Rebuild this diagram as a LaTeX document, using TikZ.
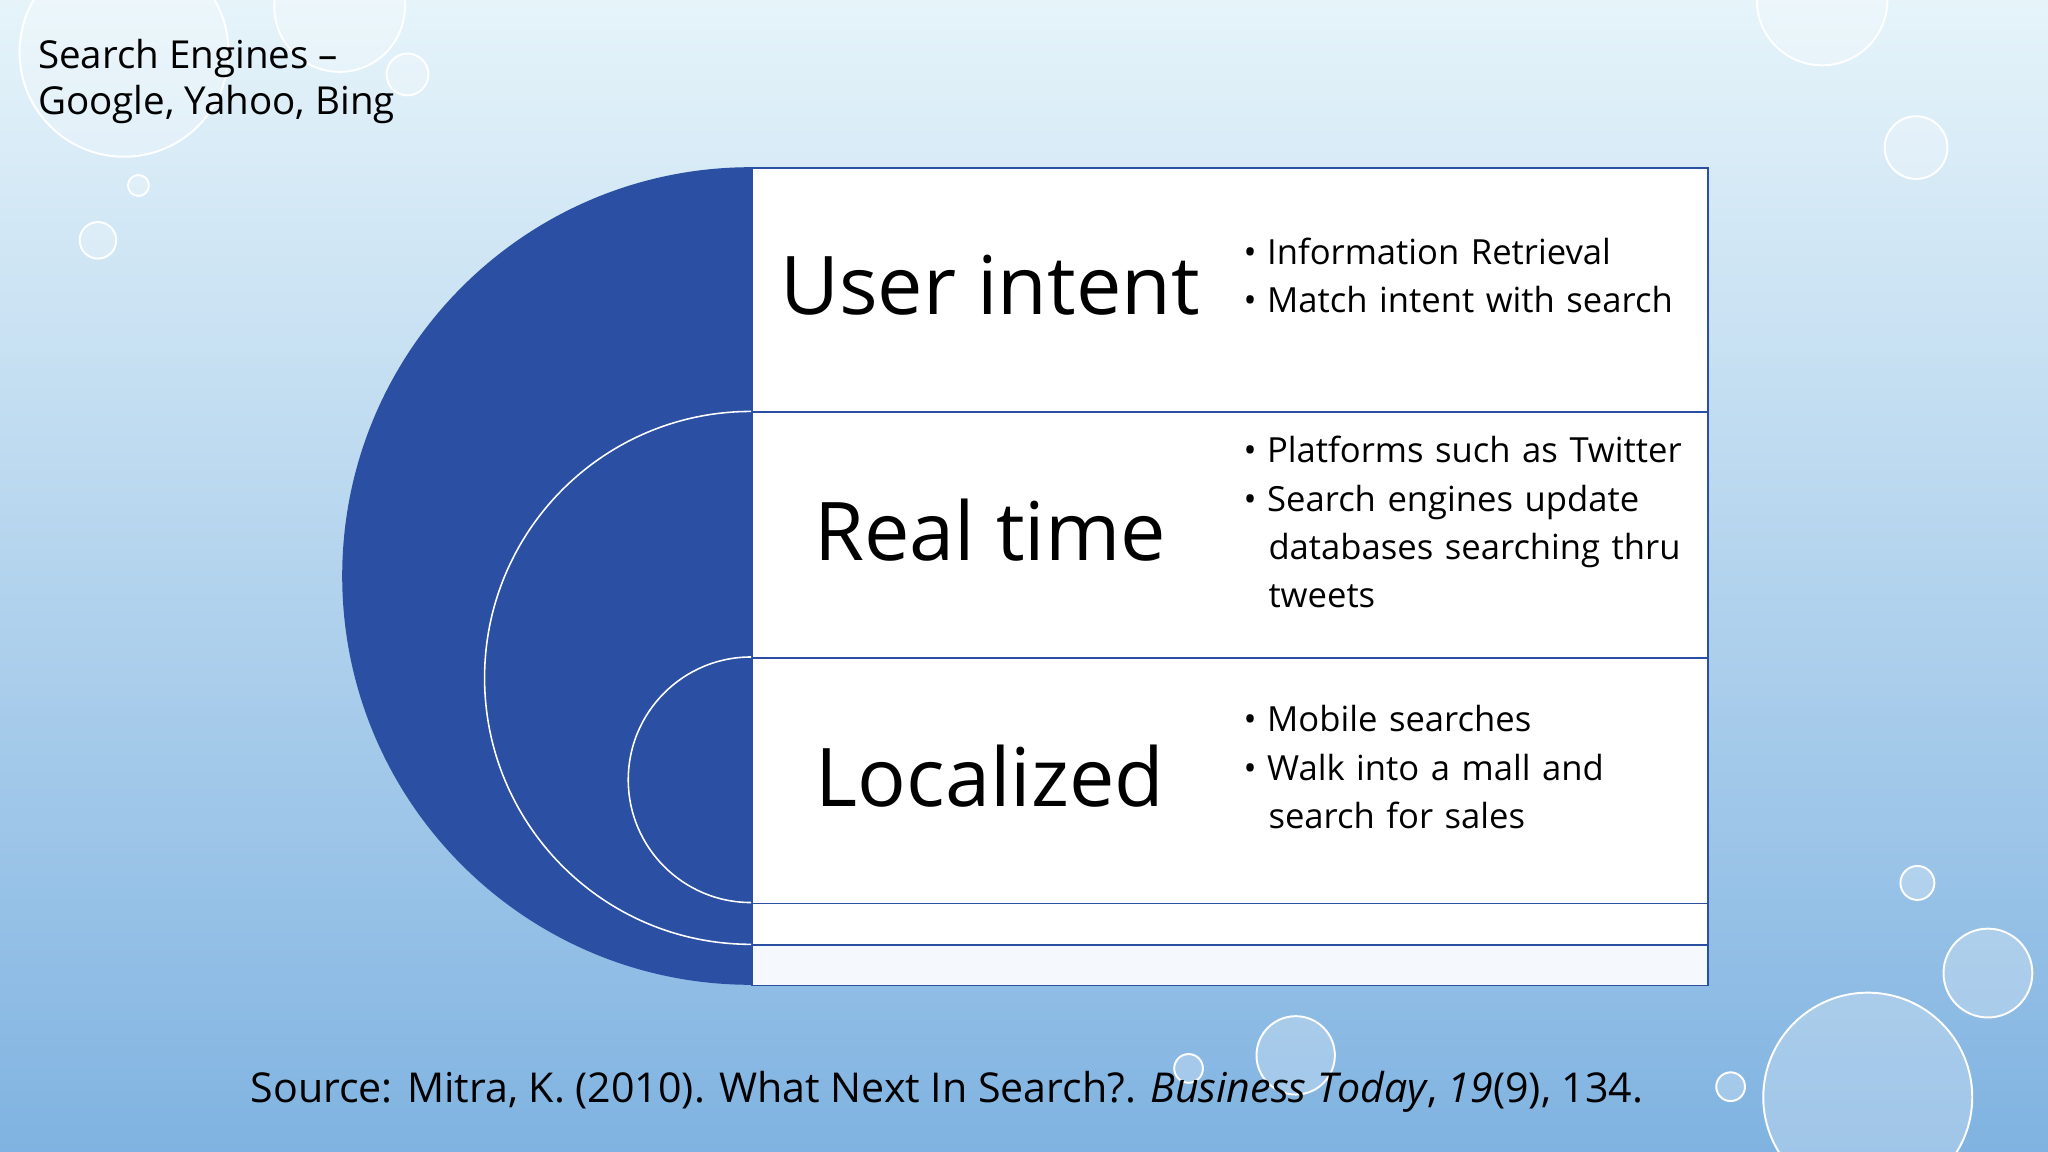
\documentclass[tikz,border=0pt]{standalone}
\usepackage{fontspec}
\setmainfont{Open Sans}
\definecolor{dblue}{HTML}{2A4FA3}
\definecolor{bgtop}{HTML}{E6F4FA}
\definecolor{bgbot}{HTML}{80B3E1}
\begin{document}
\begin{tikzpicture}[x=1pt,y=-1pt,
  rowbox/.style={draw=dblue,line width=1.2pt,fill=white},
  big/.style={font=\fontsize{62}{66}\selectfont,anchor=center},
  bul/.style={font=\fontsize{26.5}{37}\selectfont,anchor=north west,align=left,text width=360pt,inner sep=0pt},
  bubble/.style={draw=white,line width=1.5pt,fill=white,fill opacity=0.25}]
\useasboundingbox (0,0) rectangle (1568,882);
\shade[top color=bgtop,bottom color=bgbot] (0,0) rectangle (1568,882);
% bubbles
\draw[bubble] (95,40) circle (80);
\draw[bubble] (260,5) circle (50);
\draw[bubble] (312,57) circle (16);
\draw[bubble] (106,142) circle (8);
\draw[bubble] (75,184) circle (14);
\draw[bubble] (1395,0) circle (50);
\draw[bubble] (1467,113) circle (24);
\draw[bubble] (1468,676) circle (13);
\draw[bubble] (1522,745) circle (34);
\draw[bubble] (1430,840) circle (80);
\draw[bubble] (992,808) circle (30);
\draw[bubble] (910,818) circle (11);
\draw[bubble] (1325,832) circle (11);
% rows
\node[rowbox,minimum width=732pt,minimum height=187pt,anchor=north west,inner sep=0pt] (r1) at (575,128) {};
\node[rowbox,minimum width=732pt,minimum height=188pt,anchor=north west,inner sep=0pt] (r2) at (575,315) {};
\node[rowbox,minimum width=732pt,minimum height=188pt,anchor=north west,inner sep=0pt] (r3) at (575,503) {};
\node[rowbox,minimum width=732pt,minimum height=32pt,anchor=north west,inner sep=0pt] (r4) at (575,691) {};
\node[rowbox,fill=white!92!bgbot,minimum width=732pt,minimum height=31pt,anchor=north west,inner sep=0pt] (r5) at (575,723) {};
% half discs
\fill[dblue] (575,128) arc[start angle=-90,end angle=-270,radius=313] -- cycle;
\draw[white,line width=1.2pt,fill=dblue] (575,315) arc[start angle=-90,end angle=-270,radius=204];
\draw[white,line width=1.2pt,fill=dblue] (575,503) arc[start angle=-90,end angle=-270,radius=94];
% labels
\node[big] (t1) at (758,218) {User intent};
\node[big] (t2) at (758,406) {Real time};
\node[big] (t3) at (758,594) {Localized};
\node[bul] (b1) at (952,182) {•\hspace{8pt}Information Retrieval\\•\hspace{8pt}Match intent with search};
\node[bul] (b2) at (952,334) {•\hspace{8pt}Platforms such as Twitter\\•\hspace{8pt}Search engines update\\\hspace{19pt}databases searching thru\\\hspace{19pt}tweets};
\node[bul] (b3) at (952,540) {•\hspace{8pt}Mobile searches\\•\hspace{8pt}Walk into a mall and\\\hspace{19pt}search for sales};
\node[font=\fontsize{29.5}{35}\selectfont,anchor=north west,align=left,inner sep=0pt] (title) at (29,30) {Search Engines –\\Google, Yahoo, Bing};
\node[font=\fontsize{31.5}{35}\selectfont,anchor=center] (src) at (725,836) {Source: Mitra, K. (2010). What Next In Search?. \textit{Business Today}, \textit{19}(9), 134.};
\end{tikzpicture}
\end{document}
